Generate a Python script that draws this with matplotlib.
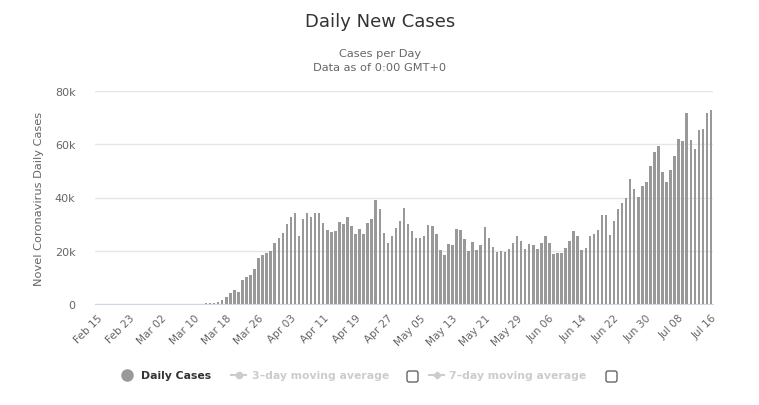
import numpy as np
import pandas as pd
from matplotlib import pyplot as plt
from matplotlib.patches import FancyBboxPatch

days = pd.date_range("2020-02-15", "2020-07-16", freq="D")

# daily new cases, Feb 15 .. Jul 16
early = [0, 0, 0, 0, 0, 0, 0, 0, 0, 0, 0, 0, 0, 0, 0,
         5, 10, 15, 20, 25, 30, 40, 50, 70, 90, 120, 150, 200]
march_on = [380, 380, 750, 1500, 2640, 4150, 5280, 4530, 9060, 10190,
            10940, 13200, 17360, 18490, 19250, 20000, 23000, 24900, 26800, 30190,
            32830, 34340, 25660, 31750, 34070, 32560, 34070, 34070, 30280, 27630,
            26880, 27260, 30660, 29900, 32560, 29150, 26120, 28010, 26120, 30280,
            31800, 38990, 35580, 26500, 23090, 25360, 28390, 31040, 35960, 29900,
            27260, 24610, 24610, 25360, 29530, 29150, 26120, 20440, 18550, 22710,
            22330, 28010, 27630, 24230, 20060, 23470, 20440, 22330, 28770, 24610,
            21580, 19680, 19720, 19370, 20500, 22770, 25410, 23520, 20500, 22390,
            22010, 20500, 22770, 25410, 22770, 18620, 18990, 18990, 20880, 23520,
            27300, 25410, 20130, 20880, 25410, 26160, 27670, 33330, 33330, 26000,
            31250, 35750, 38000, 39875, 47000, 43250, 40250, 44375, 45875, 51875,
            57125, 59375, 49625, 45875, 50375, 55625, 62000, 61250, 71750, 61625,
            58250, 65375, 65750, 71750, 72875]
cases = early + march_on

tick_every = 8
y_ticks = [0, 20000, 40000, 60000, 80000]
y_labels = ["0", "20k", "40k", "60k", "80k"]

fig = plt.figure(figsize=(7.59, 4.06), dpi=100)
W, H = 759, 406
ax = fig.add_axes([95 / W, 1 - 305 / H, 618 / W, 213 / H])

x = np.arange(len(days))
ax.bar(x, cases, width=0.62, color="#999999", zorder=3)

ax.set_xlim(-0.5, len(days) - 0.5)
ax.set_ylim(0, 80000)
ax.set_yticks(y_ticks)
ax.set_yticklabels(y_labels)
ax.grid(axis="y", color="#e6e6e6", linewidth=1, zorder=0)

tick_pos = x[::tick_every]
tick_labels = [d.strftime("%b %d") for d in days[::tick_every]]
ax.set_xticks(tick_pos)
ax.set_xticklabels(tick_labels, rotation=45, ha="right", rotation_mode="anchor")

for side in ["top", "right", "left"]:
    ax.spines[side].set_visible(False)
ax.spines["bottom"].set_color("#ccd6eb")
ax.tick_params(axis="both", length=0, colors="#666666", labelsize=8)
ax.tick_params(axis="x", labelsize=7.6, pad=6)
ax.tick_params(axis="y", pad=14)
ax.set_ylabel("Novel Coronavirus Daily Cases", color="#666666", fontsize=8.2)
ax.yaxis.set_label_coords(-0.082, 0.5)

fig.text(380 / W, 1 - 22 / H, "Daily New Cases", ha="center", va="center",
         fontsize=13, color="#333333")
fig.text(380 / W, 1 - 54 / H, "Cases per Day", ha="center", va="center",
         fontsize=8.2, color="#666666")
fig.text(380 / W, 1 - 68 / H, "Data as of 0:00 GMT+0", ha="center", va="center",
         fontsize=8.2, color="#666666")

# legend drawn in pixel coords
lg = fig.add_axes([0, 0, 1, 1], zorder=5)
lg.set_xlim(0, W)
lg.set_ylim(H, 0)
lg.axis("off")
ly = 376
lg.plot([127], [ly], "o", color="#999999", markersize=8)
lg.text(141, ly, "Daily Cases", va="center", fontsize=7.8, fontweight="bold", color="#333333")
lg.plot([231, 246], [ly, ly], color="#cccccc", linewidth=1.5)
lg.plot([238.5], [ly], "o", color="#cccccc", markersize=4.5)
lg.text(252, ly, "3\u2013day moving average", va="center", fontsize=7.8,
        fontweight="bold", color="#cccccc")
lg.plot([429, 444], [ly, ly], color="#cccccc", linewidth=1.5)
lg.plot([436.5], [ly], "D", color="#cccccc", markersize=3.5)
lg.text(449, ly, "7\u2013day moving average", va="center", fontsize=7.8,
        fontweight="bold", color="#cccccc")
for bx in [407, 606]:
    lg.add_patch(FancyBboxPatch((bx, ly - 4), 11, 11, boxstyle="round,pad=0,rounding_size=2",
                                facecolor="white", edgecolor="#555555", linewidth=0.9))

fig.savefig("out.png", dpi=100)
